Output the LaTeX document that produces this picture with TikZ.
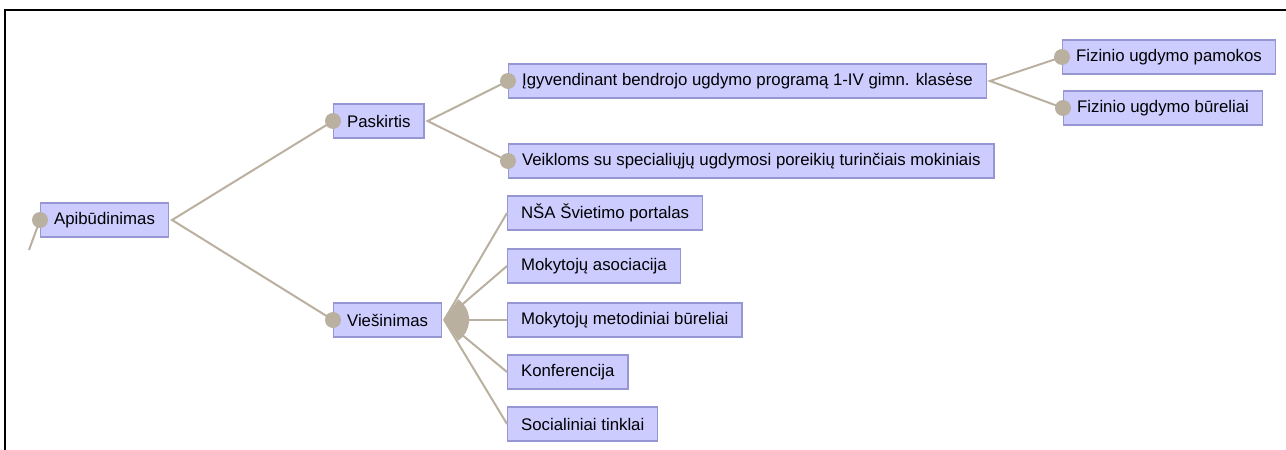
\documentclass[tikz,border=0pt]{standalone}
\usepackage{fontspec}
\setmainfont{Liberation Sans}
\usepackage{tikz}
\usetikzlibrary{positioning,calc}

\definecolor{boxfill}{RGB}{204,204,255}
\definecolor{boxline}{RGB}{150,150,210}
\definecolor{branch}{RGB}{186,176,160}

\begin{document}
\begin{tikzpicture}[x=1pt,y=-1pt,
    topic/.style={draw=boxline,fill=boxfill,line width=1.2pt,anchor=west,
        minimum height=34pt,inner xsep=13.5pt,inner ysep=0pt,
        font=\fontsize{16.8}{18}\selectfont},
    link/.style={draw=branch,line width=2pt},
    knob/.style={fill=branch}]
    % page frame
    \useasboundingbox (0,0) rectangle (1286,450);
    \draw[line width=2pt] (5,450) -- (5,10) -- (1286,10);

    % root and first level
    \node[topic] (apib) at (40,220) {Apibūdinimas};
    \node[topic] (paskirtis) at (333,121) {Paskirtis};
    \node[topic] (viesin) at (333,320) {Viešinimas};
    \coordinate (tail) at (29,250);

    % second level
    \node[topic] (igyv) at (508,81) {Įgyvendinant bendrojo ugdymo programą 1-IV gimn. klasėse};
    \node[topic] (veikl) at (508,161) {Veikloms su specialiųjų ugdymosi poreikių turinčiais mokiniais};
    \node[topic] (fizpam) at (1062,57) {Fizinio ugdymo pamokos};
    \node[topic] (fizbur) at (1063,108) {Fizinio ugdymo būreliai};

    % Viesinimas children
    \foreach \name/\y/\label in {nsa/213/NŠA Švietimo portalas,
        mokasoc/266/Mokytojų asociacija,
        mokmet/320/Mokytojų metodiniai būreliai,
        konf/372/Konferencija,
        soc/424/Socialiniai tinklai} {
        \node[topic] (\name) at (507,\y) {\label};
    }

    % branches
    \coordinate (apibfork) at ($(apib.east)+(3,0)$);
    \coordinate (paskfork) at ($(paskirtis.east)+(3,0)$);
    \coordinate (igyvfork) at ($(igyv.east)+(3,0)$);
    \coordinate (viesfork) at ($(viesin.east)+(2,0)$);
    \draw[link] (apib.west) -- (tail);
    \draw[link] (paskirtis.west) -- (apibfork) -- (viesin.west);
    \draw[link] (igyv.west) -- (paskfork) -- (veikl.west);
    \draw[link] (fizpam.west) -- (igyvfork) -- (fizbur.west);
    \foreach \name in {nsa,mokasoc,mokmet,konf,soc}
        \draw[link] (viesfork) -- (\name.west);
    \fill[knob] (viesfork) -- ++(-56:25) arc (-56:56:25) -- cycle;

    % knobs
    \foreach \name in {apib,paskirtis,viesin,igyv,veikl,fizpam,fizbur}
        \fill[knob] (\name.west) circle (8);
\end{tikzpicture}
\end{document}
